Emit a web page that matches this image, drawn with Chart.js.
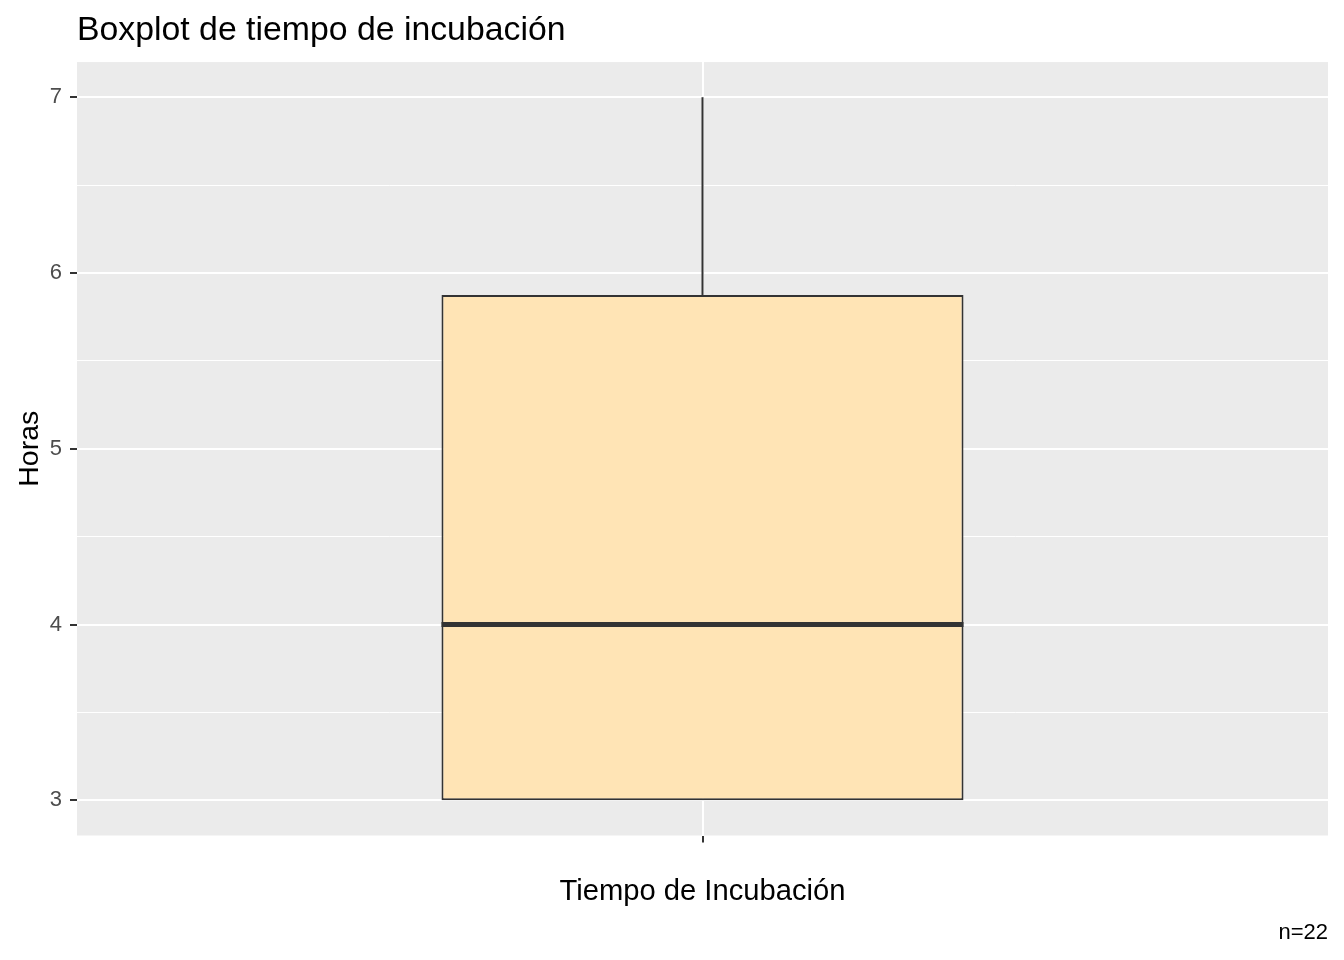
<!DOCTYPE html>
<html>
<head>
<meta charset="utf-8">
<title>Boxplot de tiempo de incubación</title>
<script src="https://cdn.jsdelivr.net/npm/chart.js@4"></script>
<style>
  body { margin: 0; background: #ffffff; }
</style>
</head>
<body>
<canvas id="boxChart" width="1344" height="960"></canvas>
<script>
// data
let categories = ['']
let q1 = [3]
let median = [4]
let q3 = [5.875]
let whiskerLow = [3]
let whiskerHigh = [7]
let yTicks = [3, 4, 5, 6, 7]
let yMinorTicks = [3.5, 4.5, 5.5, 6.5]
let sampleSize = 22

let fontFamily = "'Liberation Sans', Arial, sans-serif"

// grey panel behind everything
let panelBackground = {
    id: 'panelBackground',
    beforeDraw(chart) {
        let {ctx, chartArea} = chart
        ctx.save()
        ctx.fillStyle = '#EBEBEB'
        ctx.fillRect(chartArea.left, chartArea.top, chartArea.right - chartArea.left, chartArea.bottom - chartArea.top)
        ctx.restore()
    }
}

// whiskers behind the box, median on top of it
let boxExtras = {
    id: 'boxExtras',
    beforeDatasetsDraw(chart) {
        let {ctx} = chart
        let y = chart.scales.y
        chart.getDatasetMeta(0).data.forEach(function (bar, i) {
            ctx.save()
            ctx.strokeStyle = '#333333'
            ctx.lineWidth = 2
            ctx.beginPath()
            ctx.moveTo(bar.x, y.getPixelForValue(q3[i]))
            ctx.lineTo(bar.x, y.getPixelForValue(whiskerHigh[i]))
            ctx.moveTo(bar.x, y.getPixelForValue(q1[i]))
            ctx.lineTo(bar.x, y.getPixelForValue(whiskerLow[i]))
            ctx.stroke()
            ctx.restore()
        })
    },
    afterDatasetsDraw(chart) {
        let {ctx} = chart
        let y = chart.scales.y
        chart.getDatasetMeta(0).data.forEach(function (bar, i) {
            let yPix = y.getPixelForValue(median[i])
            ctx.save()
            ctx.strokeStyle = '#333333'
            ctx.lineWidth = 5
            ctx.beginPath()
            ctx.moveTo(bar.x - bar.width / 2, yPix)
            ctx.lineTo(bar.x + bar.width / 2, yPix)
            ctx.stroke()
            ctx.restore()
        })
    }
}

let ctx = document.getElementById('boxChart').getContext('2d')

let boxChart = new Chart(ctx, {
    type: 'bar',
    data: {
        labels: categories,
        datasets: [{
            data: categories.map((c, i) => [q1[i], q3[i]]),
            backgroundColor: '#FFE4B5',
            borderColor: '#333333',
            borderWidth: 2,
            borderSkipped: false,
            barPercentage: 0.4173,
            categoryPercentage: 1
        }]
    },
    options: {
        responsive: false,
        animation: false,
        devicePixelRatio: 1,
        layout: {
            padding: {left: 0, right: 16, top: 0, bottom: 0}
        },
        plugins: {
            legend: {display: false},
            tooltip: {enabled: false},
            title: {
                display: true,
                text: 'Boxplot de tiempo de incubación',
                align: 'start',
                fullSize: false,
                color: '#000000',
                font: {family: fontFamily, size: 33.8, weight: 'normal'},
                padding: {top: 10.5, bottom: 11}
            },
            subtitle: {
                display: true,
                text: 'n=' + sampleSize,
                position: 'bottom',
                align: 'end',
                fullSize: false,
                color: '#000000',
                font: {family: fontFamily, size: 22, weight: 'normal'},
                padding: {top: 4, bottom: 13.7}
            }
        },
        scales: {
            x: {
                afterFit: function (scale) { scale.height = 80.4 },
                grid: {
                    offset: false,
                    color: '#FFFFFF',
                    lineWidth: 2,
                    tickColor: '#333333',
                    tickLength: 7,
                    tickWidth: 2
                },
                border: {display: false},
                ticks: {display: false},
                title: {
                    display: true,
                    text: 'Tiempo de Incubación',
                    color: '#000000',
                    font: {family: fontFamily, size: 29.2, weight: 'normal'},
                    padding: {top: 0, bottom: 6}
                }
            },
            y: {
                min: 2.8,
                max: 7.2,
                afterFit: function (scale) { scale.width = 77 },
                afterBuildTicks: function (scale) {
                    scale.ticks = yTicks.concat(yMinorTicks).sort((a, b) => a - b).map(v => ({value: v}))
                },
                grid: {
                    color: '#FFFFFF',
                    lineWidth: c => yTicks.includes(c.tick.value) ? 2 : 1,
                    tickColor: c => yTicks.includes(c.tick.value) ? '#333333' : 'rgba(0,0,0,0)',
                    tickLength: 7,
                    tickWidth: 2
                },
                border: {display: false},
                ticks: {
                    color: '#4D4D4D',
                    font: {family: fontFamily, size: 22},
                    padding: 8,
                    callback: v => yTicks.includes(v) ? String(v) : ''
                },
                title: {
                    display: true,
                    text: 'Horas',
                    color: '#000000',
                    font: {family: fontFamily, size: 28.5, weight: 'normal'},
                    padding: {top: 13, bottom: 0}
                }
            }
        }
    },
    plugins: [panelBackground, boxExtras]
})
</script>
</body>
</html>
